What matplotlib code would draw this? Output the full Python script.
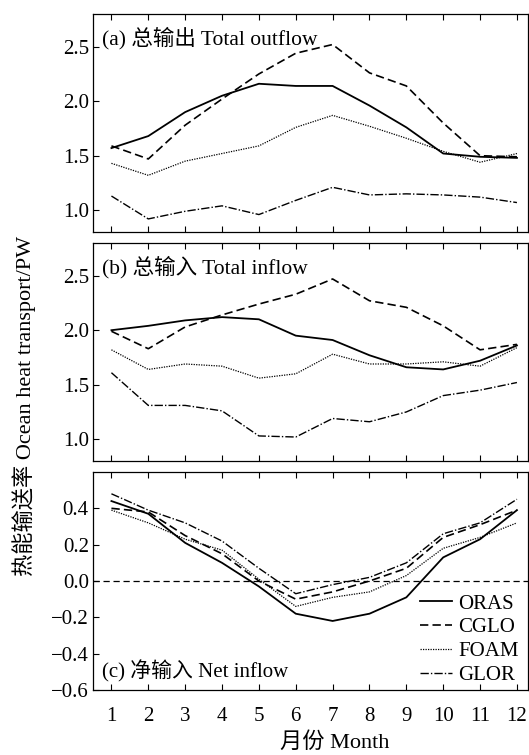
import matplotlib
matplotlib.use("Agg")
import matplotlib.pyplot as plt

plt.rcParams['font.family'] = ['Liberation Serif', 'Noto Sans CJK SC']
plt.rcParams['axes.unicode_minus'] = True

months = list(range(1, 13))
series_names = ["ORAS", "CGLO", "FOAM", "GLOR"]

out_oras = [1.57, 1.68, 1.90, 2.05, 2.16, 2.14, 2.14, 1.96, 1.76, 1.52, 1.49, 1.48]
out_cglo = [1.59, 1.47, 1.78, 2.02, 2.25, 2.44, 2.52, 2.26, 2.14, 1.80, 1.50, 1.49]
out_foam = [1.43, 1.32, 1.45, 1.52, 1.59, 1.76, 1.87, 1.77, 1.66, 1.54, 1.44, 1.52]
out_glor = [1.13, 0.92, 0.99, 1.04, 0.96, 1.09, 1.21, 1.14, 1.15, 1.14, 1.12, 1.07]

in_oras = [2.00, 2.04, 2.09, 2.12, 2.10, 1.95, 1.91, 1.77, 1.66, 1.64, 1.72, 1.86]
in_cglo = [1.99, 1.83, 2.03, 2.14, 2.24, 2.33, 2.47, 2.27, 2.21, 2.04, 1.82, 1.87]
in_foam = [1.82, 1.64, 1.69, 1.67, 1.56, 1.60, 1.78, 1.69, 1.69, 1.71, 1.67, 1.84]
in_glor = [1.61, 1.31, 1.31, 1.26, 1.03, 1.02, 1.19, 1.16, 1.25, 1.40, 1.45, 1.52]

net_oras = [0.44, 0.37, 0.21, 0.10, -0.03, -0.18, -0.22, -0.18, -0.09, 0.13, 0.23, 0.39]
net_cglo = [0.40, 0.38, 0.25, 0.15, 0.00, -0.10, -0.06, 0.00, 0.07, 0.24, 0.31, 0.39]
net_foam = [0.39, 0.32, 0.23, 0.17, 0.01, -0.14, -0.09, -0.06, 0.03, 0.18, 0.24, 0.32]
net_glor = [0.48, 0.39, 0.32, 0.22, 0.07, -0.07, -0.02, 0.02, 0.10, 0.26, 0.32, 0.45]

panel_titles = ["(a) 总输出 Total outflow", "(b) 总输入 Total inflow", "(c) 净输入 Net inflow"]
ylabel = "热能输送率 Ocean heat transport/PW"
xlabel = "月份 Month"

styles = [dict(ls='-', lw=1.3), dict(ls=(0, (5, 2.5)), lw=1.2),
          dict(ls=(0, (1, 1)), lw=0.9), dict(ls=(0, (6, 1.5, 1, 1.5)), lw=1.0)]

W, H = 529, 755
fig = plt.figure(figsize=(W / 100, H / 100), dpi=100)
left, right = 93 / W, 528 / W
boxes = [(14, 232), (243, 461), (472, 690)]
data = [[out_oras, out_cglo, out_foam, out_glor],
        [in_oras, in_cglo, in_foam, in_glor],
        [net_oras, net_cglo, net_foam, net_glor]]
fs = 15
for i, ((t, b), ser) in enumerate(zip(boxes, data)):
    ax = fig.add_axes([left, 1 - b / H, right - left, (b - t) / H])
    for name, vals, st in zip(series_names, ser, styles):
        ax.plot(months, vals, color='black', label=name, **st)
    ax.set_xlim(0.5, 12.3)
    ax.set_xticks(months)
    if i < 2:
        ax.set_ylim(0.8, 2.8)
        ax.set_yticks([1.0, 1.5, 2.0, 2.5])
        ax.set_yticklabels(["1.0", "1.5", "2.0", "2.5"])
        ax.tick_params(axis='x', labelbottom=False)
    else:
        ax.set_ylim(-0.6, 0.6)
        ax.set_yticks([-0.6, -0.4, -0.2, 0.0, 0.2, 0.4])
        ax.set_yticklabels(["\u22120.6", "\u22120.4", "\u22120.2", "0.0", "0.2", "0.4"])
        ax.axhline(0, color='black', ls=(0, (5, 3)), lw=0.9)
        leg = ax.legend(loc='lower right', bbox_to_anchor=(0.99, 0.0), frameon=False,
                        fontsize=fs, handlelength=1.5, handletextpad=0.3,
                        labelspacing=0.2, borderaxespad=0.1, borderpad=0.15)
        ax.set_xticklabels([str(m) for m in months])
    ax.tick_params(direction='in', top=True, bottom=True, left=True, right=False,
                   labelsize=fs, length=4, width=0.8, colors='black')
    ax.tick_params(axis='x', pad=12)
    ax.tick_params(axis='y', pad=3)
    for s in ax.spines.values():
        s.set_linewidth(0.9)
    ax.text(0.02, 0.94 if i < 2 else 0.035, panel_titles[i], transform=ax.transAxes,
            ha='left', va='top' if i < 2 else 'bottom', fontsize=15.5 if i < 2 else fs)

fig.text(24 / W, 1 - 406 / H, ylabel, rotation=90, ha='center', va='center', fontsize=16)
fig.text(335 / W, 1 - 743 / H, xlabel, ha='center', va='center', fontsize=16)
fig.savefig("out.png", dpi=100)
